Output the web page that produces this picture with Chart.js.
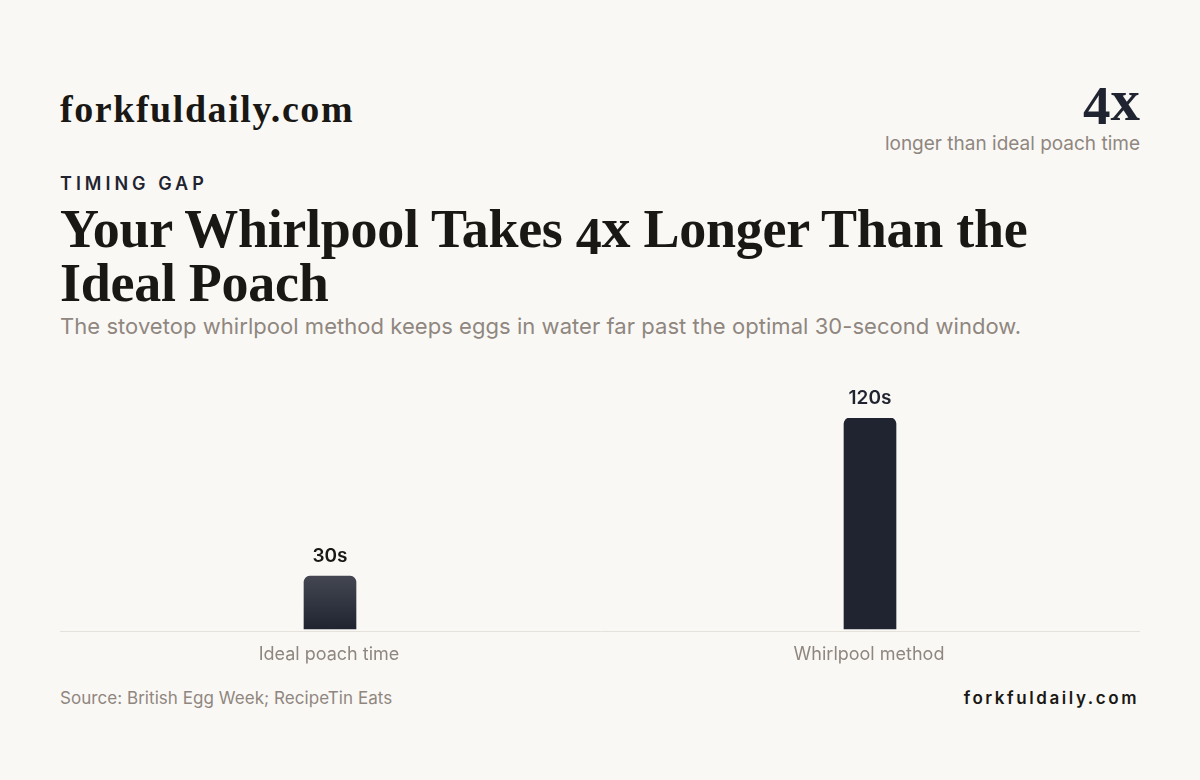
<!DOCTYPE html>
<html><head><meta charset="utf-8">
<script src="https://cdn.jsdelivr.net/npm/chart.js@4"></script>
<style>
html,body{margin:0;padding:0;background:#faf8f5;width:1200px;height:780px;overflow:hidden}
.t{position:absolute;white-space:nowrap;line-height:1}
.t span{line-height:0;position:relative}
.serif{font-family:"Liberation Serif",serif;font-weight:700}
.sans{font-family:Inter,sans-serif}
</style></head><body>
<div class="t serif" id="brand" style="left:60px;top:90px;font-size:38px;letter-spacing:1.56px;color:#1a1814">forkfuldaily.com</div>
<div class="t serif" id="big" style="right:60px;top:71px;font-size:59px;line-height:59px;color:#1f2430"><span style="font-size:55px;top:4px">4</span>x</div>
<div class="t sans" id="bigsub" style="right:60px;top:134px;font-size:19px;color:#8f877f">longer than ideal poach time</div>
<div class="t sans" id="eyebrow" style="left:60px;top:175px;font-size:18px;font-weight:600;letter-spacing:4px;color:#1f2430">TIMING GAP</div>
<div class="t serif" id="title1" style="left:60px;top:202px;font-size:54px;letter-spacing:-0.28px;color:#1a1814">Your Whirlpool Takes <span style="font-size:52px;top:7px">4</span><span style="font-size:58px">x</span> Longer Than the</div>
<div class="t serif" id="title2" style="left:60px;top:256px;font-size:54px;letter-spacing:-0.28px;color:#1a1814">Ideal Poach</div>
<div class="t sans" id="sub" style="left:60px;top:315px;font-size:22px;letter-spacing:0.045px;color:#8f877f">The stovetop whirlpool method keeps eggs in water far past the optimal 30-second window.</div>
<div style="position:absolute;left:60px;top:370px;width:1080px;height:307px"><canvas id="c"></canvas></div>
<div class="t sans" id="src" style="left:60px;top:690px;font-size:17px;letter-spacing:0.05px;color:#8f877f">Source: British Egg Week; RecipeTin Eats</div>
<div class="t sans" id="foot" style="right:61px;top:690px;font-size:17px;font-weight:600;letter-spacing:2.56px;color:#1a1814">forkfuldaily.com</div>
<script>
const categories = ["Ideal poach time", "Whirlpool method"];
const seconds = [30, 120];
const valueLabels = ["30s", "120s"];
const labelColors = ["#1a1814", "#1f2430"];

const valueLabelPlugin = {
  id: "valueLabels",
  afterDatasetsDraw(chart) {
    const { ctx } = chart;
    const meta = chart.getDatasetMeta(0);
    ctx.save();
    ctx.font = '600 19px Inter, sans-serif';
    ctx.textAlign = "center";
    ctx.textBaseline = "alphabetic";
    meta.data.forEach((bar, i) => {
      ctx.fillStyle = labelColors[i];
      ctx.fillText(valueLabels[i], bar.x, Math.floor(bar.y) - 14);
    });
    ctx.restore();
  }
};

new Chart(document.getElementById("c"), {
  type: "bar",
  data: {
    labels: categories,
    datasets: [{
      data: seconds,
      barThickness: 52,
      borderRadius: { topLeft: 6, topRight: 6, bottomLeft: 0, bottomRight: 0 },
      borderSkipped: false,
      backgroundColor(ctx) {
        if (ctx.dataIndex !== 0 || !ctx.chart.chartArea) return "#1f2430";
        const y = ctx.chart.scales.y;
        const g = ctx.chart.ctx.createLinearGradient(0, y.getPixelForValue(seconds[0]), 0, y.getPixelForValue(0));
        g.addColorStop(0, "#444752");
        g.addColorStop(1, "#1f2430");
        return g;
      }
    }]
  },
  options: {
    responsive: true,
    maintainAspectRatio: false,
    animation: false,
    layout: { padding: { top: 48, left: 0, right: 0, bottom: 0 } },
    plugins: { legend: { display: false }, tooltip: { enabled: false } },
    scales: {
      y: { display: false, min: -1.4, max: 120 },
      x: {
        grid: { display: false, drawTicks: false },
        border: { color: "#e5e2dc", width: 1 },
        ticks: { color: "#8f877f", font: { family: "Inter, sans-serif", size: 18 }, padding: 12, labelOffset: -1 }
      }
    }
  },
  plugins: [valueLabelPlugin]
});
</script>
</body></html>
